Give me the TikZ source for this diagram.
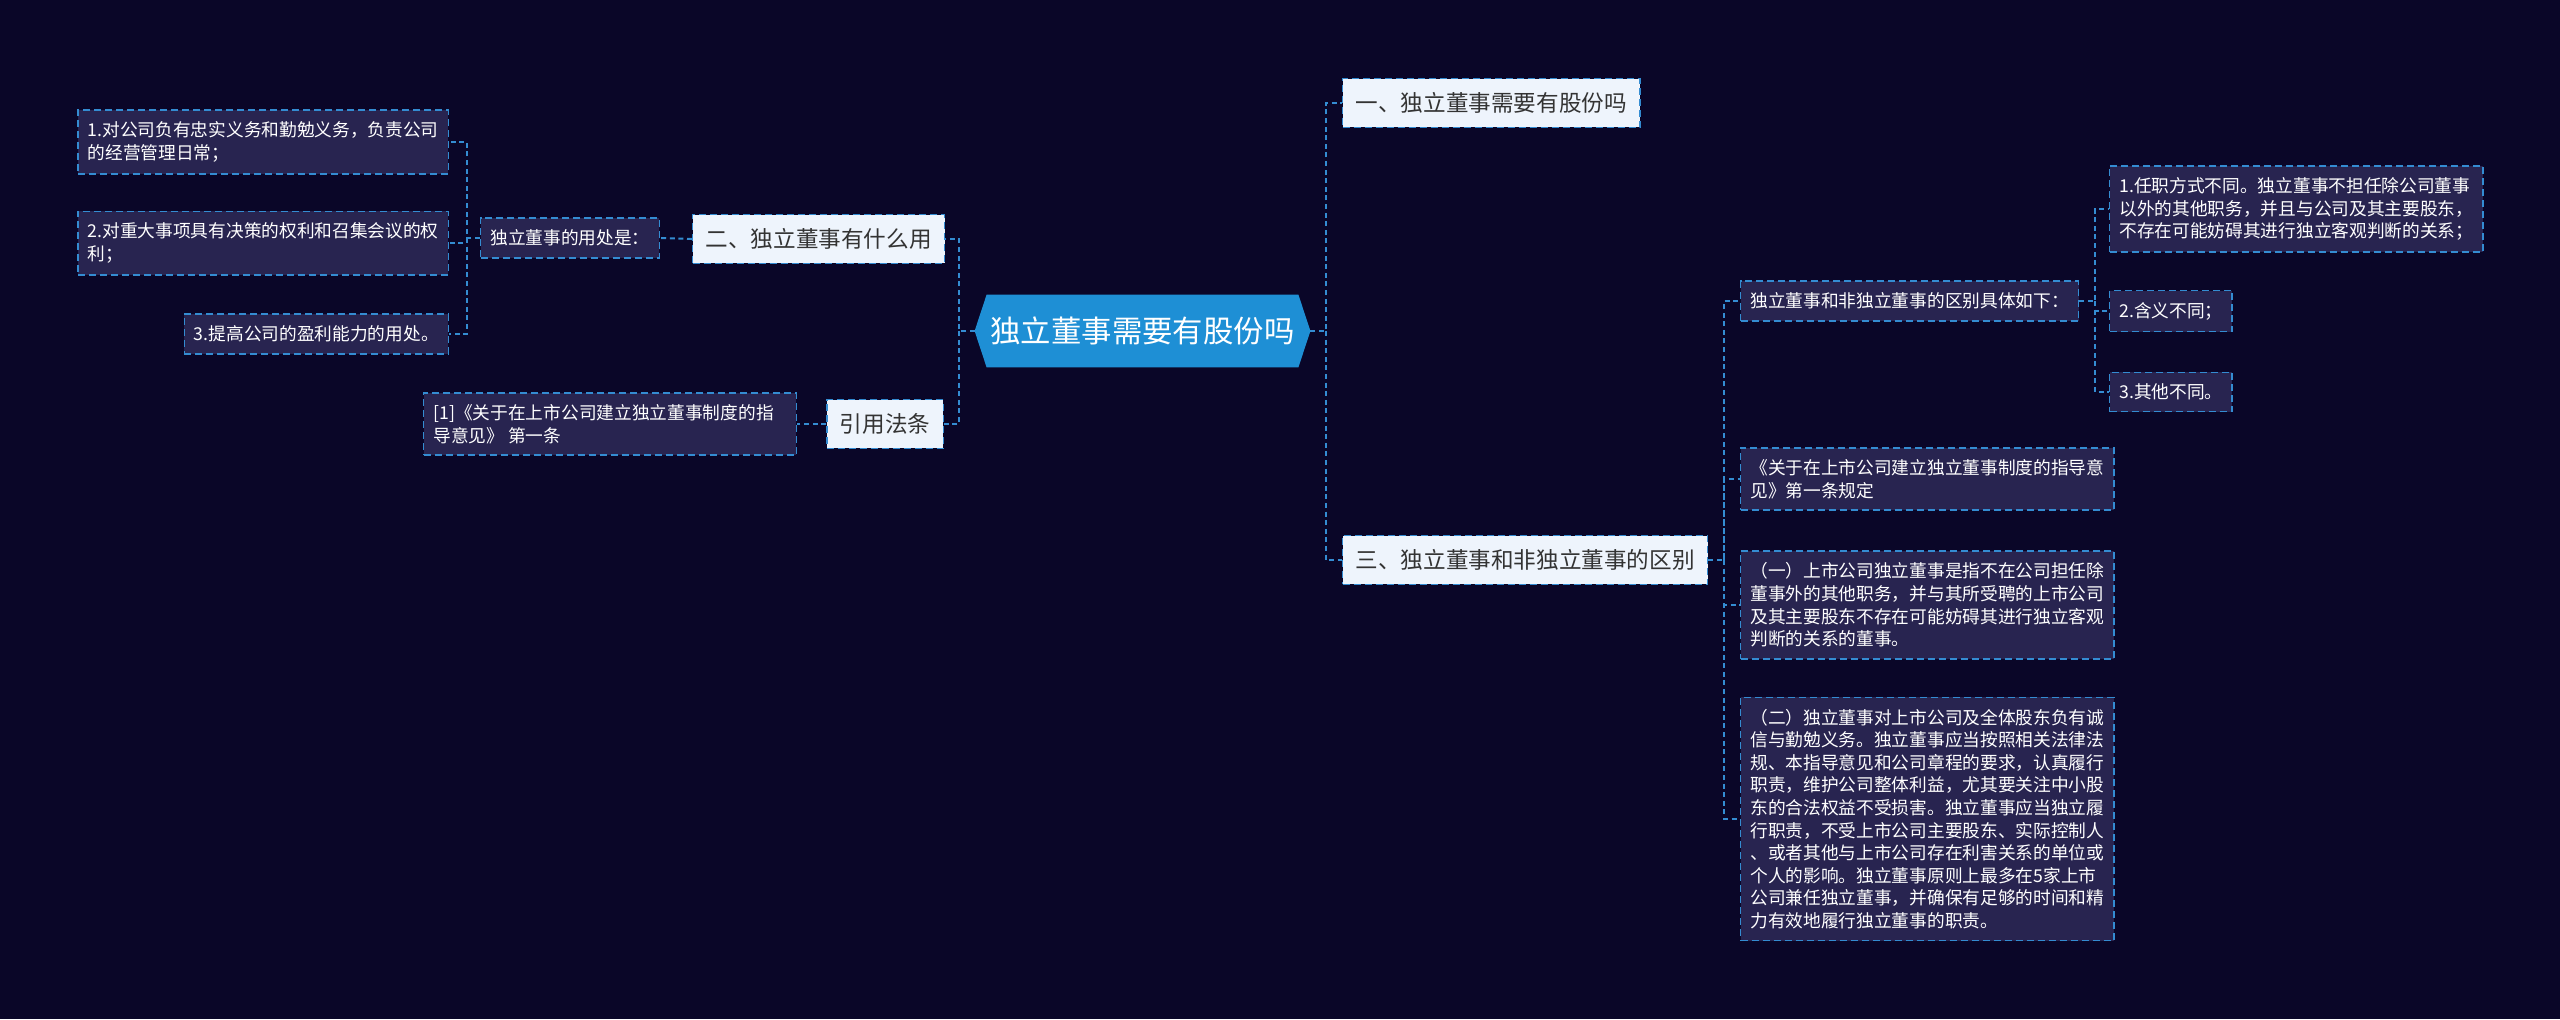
\documentclass[tikz,border=0pt]{standalone}
\usepackage{fontspec}
\setmainfont{Noto Sans CJK SC}
\usetikzlibrary{backgrounds}
\definecolor{bg}{RGB}{10,6,40}
\definecolor{boxf}{RGB}{40,36,80}
\definecolor{lb}{RGB}{52,140,210}
\definecolor{mf}{RGB}{238,244,252}
\definecolor{mt}{RGB}{51,51,51}
\definecolor{rootf}{RGB}{30,143,213}
\pgfdeclarelayer{bgl}
\pgfdeclarelayer{mid}
\pgfsetlayers{bgl,mid,main}
\begin{document}
\begin{tikzpicture}[x=0.5pt,y=-0.5pt,
  sbox/.style={draw=lb, fill=boxf, dash pattern=on 3.5pt off 2pt, line width=0.7pt,
    text=white, align=left, inner xsep=4.8pt, inner ysep=5.8pt,
    font=\fontsize{8.85pt}{11.3pt}\selectfont},
  mbox/.style={draw=lb, fill=mf, dash pattern=on 3.5pt off 2pt, line width=0.7pt,
    text=mt, inner xsep=6.5pt, inner ysep=6.9pt,
    font=\fontsize{11.3pt}{13pt}\selectfont},
  conn/.style={draw=lb, line width=1pt, dash pattern=on 2.5pt off 1.8pt}]
\begin{pgfonlayer}{bgl}
\fill[bg] (0,0) rectangle (2560,1019);
\end{pgfonlayer}
\useasboundingbox (0,0) rectangle (2560,1019);

% root
\node[minimum width=167.5pt, minimum height=36pt, inner sep=0pt, text=white,
  font=\fontsize{15.2pt}{18pt}\selectfont] (root) at (1142.5,331) {独立董事需要有股份吗};
\begin{pgfonlayer}{mid}
\fill[rootf] (root.west) -- ([xshift=6pt]root.north west) -- ([xshift=-6pt]root.north east)
  -- (root.east) -- ([xshift=-6pt]root.south east) -- ([xshift=6pt]root.south west) -- cycle;
\end{pgfonlayer}

% left side
\node[mbox, anchor=west] (er) at (692,239) {二、独立董事有什么用};
\node[mbox, anchor=east] (yy) at (944,424) {引用法条};
\node[sbox, anchor=west] (yc) at (480,238) {独立董事的用处是：};
\node[sbox, anchor=east] (i1) at (449,142) {1.对公司负有忠实义务和勤勉义务，负责公司\\的经营管理日常；};
\node[sbox, anchor=east] (i2) at (449,243) {2.对重大事项具有决策的权利和召集会议的权\\利；};
\node[sbox, anchor=east] (i3) at (449,334) {3.提高公司的盈利能力的用处。};
\node[sbox, anchor=east] (ref1) at (797,424) {[1]《关于在上市公司建立独立董事制度的指\hspace*{6.5pt}\\导意见》 第一条};

% right side
\node[mbox, anchor=west] (b1) at (1342,103) {一、独立董事需要有股份吗};
\node[mbox, anchor=west] (b3) at (1342,560) {三、独立董事和非独立董事的区别};
\node[sbox, anchor=west] (qb) at (1740,301) {独立董事和非独立董事的区别具体如下：};
\node[sbox, anchor=west] (r1) at (2109,209) {1.任职方式不同。独立董事不担任除公司董事\\以外的其他职务，并且与公司及其主要股东，\\不存在可能妨碍其进行独立客观判断的关系；};
\node[sbox, anchor=west] (r2) at (2109,311) {2.含义不同；};
\node[sbox, anchor=west] (r3) at (2109,392) {3.其他不同。};
\node[sbox, anchor=west] (g) at (1740,479) {《关于在上市公司建立独立董事制度的指导意\\见》第一条规定};
\node[sbox, anchor=west] (y1) at (1740,605) {（一）上市公司独立董事是指不在公司担任除\\董事外的其他职务，并与其所受聘的上市公司\\及其主要股东不存在可能妨碍其进行独立客观\\判断的关系的董事。};
\node[sbox, anchor=west] (y2) at (1740,819) {（二）独立董事对上市公司及全体股东负有诚\\信与勤勉义务。独立董事应当按照相关法律法\\规、本指导意见和公司章程的要求，认真履行\\职责，维护公司整体利益，尤其要关注中小股\\东的合法权益不受损害。独立董事应当独立履\\行职责，不受上市公司主要股东、实际控制人\\、或者其他与上市公司存在利害关系的单位或\\个人的影响。独立董事原则上最多在5家上市\\公司兼任独立董事，并确保有足够的时间和精\\力有效地履行独立董事的职责。};

% junctions
\coordinate (jl) at (959,331);
\coordinate (jr) at (1326,331);
\coordinate (ju) at (467,238);
\coordinate (j3) at (1724,560);
\coordinate (jq) at (2095,301);

% connectors
\draw[conn] (root.west) -- (jl) |- (er.east);
\draw[conn] (jl) |- (yy.east);
\draw[conn] (root.east) -- (jr) |- (b1.west);
\draw[conn] (jr) |- (b3.west);
\draw[conn] (er.west) -- (yc.east);
\draw[conn] (yc.west) -- (ju) |- (i1.east);
\draw[conn] (ju) |- (i2.east);
\draw[conn] (ju) |- (i3.east);
\draw[conn] (yy.west) -- (ref1.east);
\draw[conn] (b3.east) -- (j3) |- (qb.west);
\draw[conn] (j3) |- (g.west);
\draw[conn] (j3) |- (y1.west);
\draw[conn] (j3) |- (y2.west);
\draw[conn] (qb.east) -- (jq) |- (r1.west);
\draw[conn] (jq) |- (r2.west);
\draw[conn] (jq) |- (r3.west);
\end{tikzpicture}
\end{document}
